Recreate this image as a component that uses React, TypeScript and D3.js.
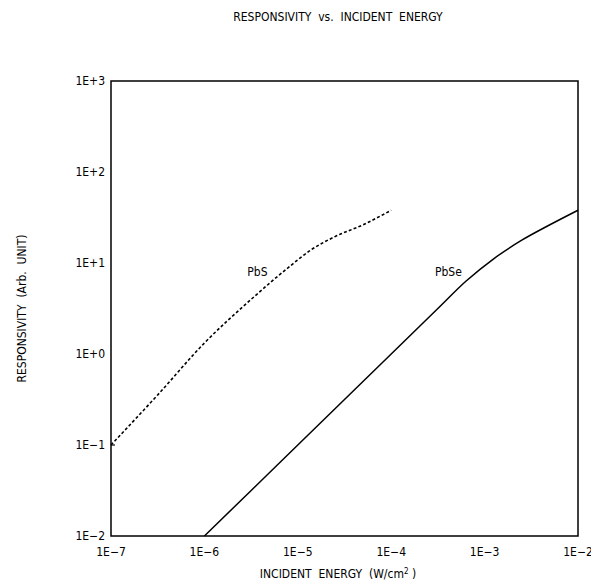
import React from "react";
import * as d3 from "d3";

// PbS curve (dashed)
const pbsEnergy = [1e-7, 3.16e-7, 1e-6, 3.16e-6, 7.9e-6, 1.41e-5, 2.5e-5, 5e-5, 1e-4];
const pbsResp = [0.1, 0.355, 1.32, 3.98, 8.9, 14.1, 19.5, 26.3, 38];

// PbSe curve (solid)
const pbseEnergy = [1e-6, 1e-5, 1e-4, 3.16e-4, 6.3e-4, 1.26e-3, 2.5e-3, 5e-3, 1e-2];
const pbseResp = [0.01, 0.1, 1, 3.16, 6.3, 11.2, 17.8, 26.3, 38];

const xTicks = [1e-7, 1e-6, 1e-5, 1e-4, 1e-3, 1e-2];
const xTickLabels = ["1E\u22127", "1E\u22126", "1E\u22125", "1E\u22124", "1E\u22123", "1E\u22122"];
const yTicks = [1e-2, 1e-1, 1, 10, 100, 1000];
const yTickLabels = ["1E\u22122", "1E\u22121", "1E+0", "1E+1", "1E+2", "1E+3"];

const curveLabels = [
  { text: "PbS", x: 3.7e-6, y: 8 },
  { text: "PbSe", x: 4.1e-4, y: 8 },
];

const width = 591;
const height = 586;
const margin = { top: 81, right: 13, bottom: 50, left: 111 };
const font = "'DejaVu Sans Condensed', 'DejaVu Sans', sans-serif";

export default function App() {
  const x = d3
    .scaleLog()
    .domain([1e-7, 1e-2])
    .range([margin.left, width - margin.right]);
  const y = d3
    .scaleLog()
    .domain([1e-2, 1e3])
    .range([height - margin.bottom, margin.top]);

  const line = d3
    .line<[number, number]>()
    .x((d) => x(d[0]))
    .y((d) => y(d[1]))
    .curve(d3.curveMonotoneX);

  const pbs = pbsEnergy.map((e, i) => [e, pbsResp[i]] as [number, number]);
  const pbse = pbseEnergy.map((e, i) => [e, pbseResp[i]] as [number, number]);

  const x0 = margin.left;
  const x1 = width - margin.right;
  const y0 = height - margin.bottom;
  const y1 = margin.top;

  return (
    <svg
      width={width}
      height={height}
      style={{ position: "absolute", left: 0, top: 0, background: "#fff" }}
      fontFamily={font}
      fontSize={12}
    >
      <text x={338} y={21} textAnchor="middle" style={{ whiteSpace: "pre" }}>
        {"RESPONSIVITY  vs.  INCIDENT  ENERGY"}
      </text>

      <rect x={x0} y={y1} width={x1 - x0} height={y0 - y1} fill="none" stroke="#000" strokeWidth={1.5} />

      {/* small tick at 1E-1 */}
      <line x1={x0} x2={x0 + 4} y1={y(0.1)} y2={y(0.1)} stroke="#000" strokeWidth={1.2} />

      {yTicks.map((t, i) => (
        <text key={"y" + i} x={x0 - 6} y={y(t) + 4} textAnchor="end">
          {yTickLabels[i]}
        </text>
      ))}
      {xTicks.map((t, i) => (
        <text key={"x" + i} x={x(t)} y={y0 + 20} textAnchor="middle">
          {xTickLabels[i]}
        </text>
      ))}

      <path d={line(pbs) || ""} fill="none" stroke="#000" strokeWidth={1.6} strokeDasharray="3,2.2" />
      <path d={line(pbse) || ""} fill="none" stroke="#000" strokeWidth={1.5} />

      {curveLabels.map((l) => (
        <text key={l.text} x={x(l.x)} y={y(l.y) + 4} textAnchor="middle">
          {l.text}
        </text>
      ))}

      <text x={338} y={578} textAnchor="middle" style={{ whiteSpace: "pre" }}>
        {"INCIDENT  ENERGY  (W/cm"}
        <tspan fontSize={8} dy={-4}>2</tspan>
        <tspan dy={4}>{" )"}</tspan>
      </text>

      <text
        transform={`translate(26,${(y0 + y1) / 2}) rotate(-90)`}
        textAnchor="middle"
        style={{ whiteSpace: "pre" }}
      >
        {"RESPONSIVITY  (Arb.  UNIT)"}
      </text>
    </svg>
  );
}
